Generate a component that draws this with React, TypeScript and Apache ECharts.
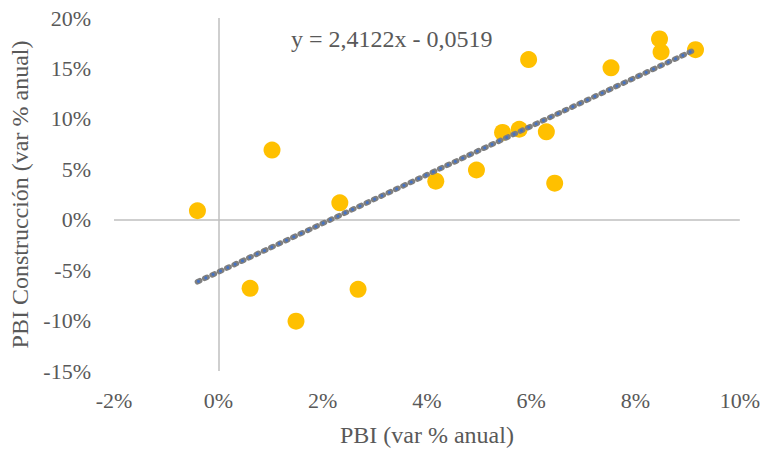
import React, { useEffect, useRef } from "react";
import * as echarts from "echarts";

// PBI (var % anual) vs PBI Construcción (var % anual), in percent
const pbi = [-0.4, 0.61, 1.03, 1.49, 2.33, 2.68, 4.17, 4.95, 5.45, 5.77, 5.95, 6.29, 6.45, 7.53, 8.46, 8.49, 9.15];
const construccion = [0.89, -6.8, 6.9, -10.06, 1.68, -6.9, 3.82, 4.93, 8.65, 8.97, 15.88, 8.71, 3.62, 15.06, 17.92, 16.63, 16.86];

// Trend line coefficients (fraction units): y = 2.4122x - 0.0519
const slope = 2.4122;
const intercept = -0.0519;
const equationLabel = "y = 2,4122x - 0,0519";

const xTicks = { min: -2, max: 10, interval: 2 };
const yTicks = { min: -15, max: 20, interval: 5 };

const xTitle = "PBI (var % anual)";
const yTitle = "PBI Construcción (var % anual)";

export default function App() {
  const ref = useRef<HTMLDivElement>(null);

  useEffect(() => {
    if (!ref.current) return;
    const chart = echarts.init(ref.current, undefined, { renderer: "svg" });
    const points = pbi.map((x, i) => [x, construccion[i]]);
    const xMin = Math.min(...pbi);
    const xMax = Math.max(...pbi);
    const trend = [xMin, xMax].map((x) => [x, (slope * (x / 100) + intercept) * 100]);
    const font = "Liberation Serif";
    const grey = "#595959";

    chart.setOption({
      animation: false,
      textStyle: { fontFamily: font },
      grid: { left: 114, right: 23, top: 18, bottom: 79, containLabel: false },
      xAxis: {
        type: "value",
        min: xTicks.min,
        max: xTicks.max,
        interval: xTicks.interval,
        axisLine: { show: false, onZero: false },
        axisTick: { show: false },
        splitLine: { show: false },
        axisLabel: { color: grey, fontSize: 22, fontFamily: font, margin: 18, formatter: (v: number) => `${v}%` },
        name: xTitle,
        nameLocation: "middle",
        nameGap: 52,
        nameTextStyle: { color: grey, fontSize: 24, fontFamily: font },
      },
      yAxis: {
        type: "value",
        min: yTicks.min,
        max: yTicks.max,
        interval: yTicks.interval,
        axisLine: { show: false, onZero: false },
        axisTick: { show: false },
        splitLine: { show: false },
        axisLabel: { color: grey, fontSize: 22, fontFamily: font, margin: 23, formatter: (v: number) => `${v}%` },
        name: yTitle,
        nameLocation: "middle",
        nameGap: 80,
        nameTextStyle: { color: grey, fontSize: 24, fontFamily: font },
      },
      graphic: [
        {
          type: "text",
          left: 291,
          top: 27,
          style: { text: equationLabel, fill: grey, fontSize: 24, fontFamily: font },
          z: 100,
        },
      ],
      series: [
        {
          type: "scatter",
          data: points,
          symbolSize: 17,
          itemStyle: { color: "#FFC000", opacity: 1 },
          z: 2,
          markLine: {
            silent: true,
            symbol: "none",
            label: { show: false },
            lineStyle: { color: "#BFBFBF", width: 1.5, type: "solid", opacity: 1 },
            data: [{ xAxis: 0 }, { yAxis: 0 }],
            z: 1,
          },
        },
        {
          type: "line",
          data: trend,
          showSymbol: false,
          silent: true,
          lineStyle: { color: "#7F7F7F", width: 5.5, type: [2.5, 5.6], cap: "round", opacity: 1 },
          z: 3,
        },
        {
          type: "line",
          data: trend,
          showSymbol: false,
          silent: true,
          lineStyle: { color: "#4472C4", width: 3, type: [0.01, 8.09], dashOffset: 6.85, cap: "round", opacity: 1 },
          z: 4,
        },
      ],
    });
    return () => chart.dispose();
  }, []);

  return <div ref={ref} style={{ width: 763, height: 452, position: "absolute", left: 0, top: 0 }} />;
}
